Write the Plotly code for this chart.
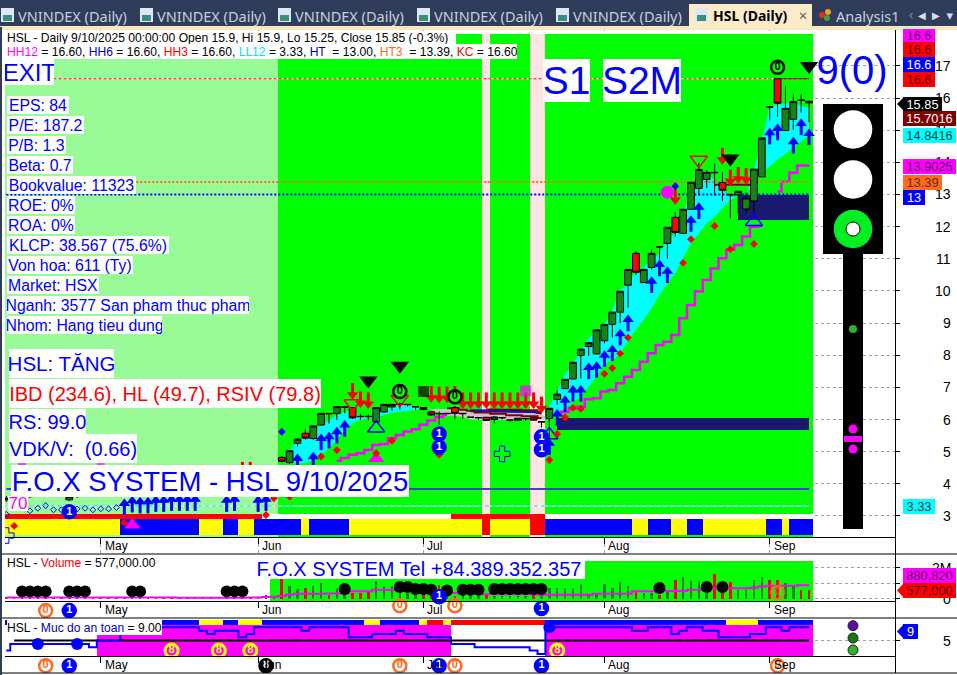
"""HSL daily chart with signal panels, volume and safety level."""

import plotly.graph_objects as go

W, H = 957, 675
FONT = "Liberation Sans"

GREEN = "#00ff00"
LIGHT = "#98fb98"
PALE = "#ffe4e1"
RED = "#ff0000"
BLUE = "#0000ff"
YELLOW = "#ffff00"
WHITE = "#ffffff"
PINK = "#ff00ff"
NAVY = "#191970"
CYAN = "#00ffff"
ORANGE = "#ff6a20"
DARKRED = "#800000"
CANDLE_GREEN = "#148414"

# bar index 0 is the oldest bar, 102 is 9/10/2025
bars = list(range(103))
month_ticks = [12, 32, 53, 76, 97]
month_labels = ["May", "Jun", "Jul", "Aug", "Sep"]

open_ = [3.5, 3.55, 3.58, 3.6, 3.64, 3.7, 3.66, 3.7, 3.5, 3.62, 3.68, 3.75, 3.72, 3.78, 3.84, 3.9, 3.98, 4.05, 4.1, 4.02,
         4.08, 4.12, 4.08, 4.15, 4.12, 4.18, 4.05, 4.1, 4.12, 4.18, 4.22, 4.2, 4.25, 4.3, 4.38, 4.82, 4.66, 5.26, 5.57, 5.41,
         5.83, 6.19, 6.19, 6.38, 6.37, 6.1, 6.1, 5.93, 6.24, 6.39, 6.47, 6.46, 6.39, 6.37, 6.24, 6.19, 6.18, 6.37, 6.18, 6.07,
         6.05, 6.07, 6.0, 6.05, 5.98, 5.98, 6.02, 6.06, 5.92, 6.03, 6.62, 6.96, 7.26, 7.99, 8.27, 8.04, 8.45, 8.96, 9.34, 10.18,
         11.17, 10.26, 10.73, 11.38, 11.48, 12.29, 11.79, 12.54, 13.19, 13.47, 13.69, 13.37, 13.0, 12.99, 12.55, 12.8, 13.55, 15.73, 16.6, 14.99,
         15.34, 15.94, 15.9]
high = [3.62, 3.66, 3.68, 3.72, 3.76, 3.74, 3.78, 3.74, 3.66, 3.76, 3.8, 3.78, 3.84, 3.9, 3.95, 4.04, 4.1, 4.15, 4.14, 4.12,
        4.16, 4.14, 4.2, 4.18, 4.22, 4.2, 4.14, 4.16, 4.22, 4.26, 4.26, 4.3, 4.34, 4.42, 4.54, 4.86, 5.03, 5.42, 5.72, 5.8,
        6.19, 6.19, 6.42, 6.39, 6.37, 6.16, 6.16, 6.37, 6.47, 6.47, 6.48, 6.47, 6.4, 6.38, 6.25, 6.25, 6.19, 6.42, 6.19, 6.07,
        6.06, 6.08, 6.1, 6.08, 5.99, 6.05, 6.03, 6.07, 5.93, 6.35, 6.92, 7.25, 7.78, 8.19, 8.42, 8.79, 8.96, 9.34, 9.99, 10.67,
        11.25, 10.7, 11.3, 11.38, 11.98, 12.45, 12.54, 13.38, 13.98, 13.76, 13.97, 13.69, 13.0, 13.1, 13.06, 13.79, 14.76, 15.73, 16.6, 16.38,
        16.13, 16.12, 15.9]
low = [3.44, 3.5, 3.52, 3.56, 3.6, 3.62, 3.62, 3.6, 3.46, 3.56, 3.64, 3.68, 3.68, 3.72, 3.8, 3.85, 3.92, 4.0, 3.98, 3.98,
       4.04, 4.04, 4.04, 4.08, 4.08, 4.02, 4.0, 4.06, 4.08, 4.14, 4.16, 4.16, 4.2, 4.26, 4.34, 4.66, 4.62, 5.15, 5.38, 5.36,
       5.8, 5.88, 5.98, 6.19, 6.02, 5.98, 5.98, 5.9, 6.2, 6.27, 6.3, 6.4, 6.3, 6.29, 6.12, 5.83, 6.17, 6.0, 6.03, 6.05,
       6.0, 5.96, 5.88, 6.0, 5.94, 5.97, 5.96, 5.97, 5.75, 5.26, 6.46, 6.96, 7.26, 7.28, 7.98, 8.04, 8.37, 8.55, 9.0, 9.48,
       10.5, 10.26, 10.65, 10.86, 11.0, 11.69, 11.79, 12.54, 12.97, 13.21, 12.97, 12.8, 12.26, 12.42, 12.42, 12.42, 13.55, 15.3, 15.42, 14.99,
       15.01, 15.55, 15.25]
close = [3.55, 3.6, 3.62, 3.66, 3.7, 3.68, 3.72, 3.66, 3.6, 3.7, 3.75, 3.72, 3.78, 3.85, 3.9, 3.98, 4.05, 4.1, 4.02, 4.08,
         4.12, 4.08, 4.15, 4.12, 4.18, 4.05, 4.1, 4.12, 4.18, 4.22, 4.2, 4.25, 4.3, 4.38, 4.5, 4.7, 5.03, 5.39, 5.42, 5.8,
         6.19, 6.18, 6.4, 6.39, 6.05, 6.09, 6.09, 6.37, 6.47, 6.47, 6.48, 6.47, 6.4, 6.31, 6.14, 6.18, 6.19, 6.19, 6.19, 6.07,
         6.06, 5.97, 6.08, 6.06, 5.98, 6.04, 6.03, 5.98, 5.93, 6.35, 6.79, 7.25, 7.78, 8.19, 8.39, 8.79, 8.96, 9.34, 9.99, 10.67,
         10.58, 10.67, 11.17, 11.37, 11.98, 11.82, 12.54, 13.38, 13.78, 13.69, 13.68, 13.13, 12.99, 13.1, 12.89, 13.79, 14.76, 15.72, 15.84, 15.68,
         15.89, 15.93, 15.85]

volume = [0.1, 0.05, 0.12, 0.08, 0.06, 0.1, 0.07, 0.12, 0.08, 0.1, 0.06, 0.09, 0.05, 0.08, 0.1, 0.12, 0.1, 0.06, 0.08, 0.1,
          0.07, 0.06, 0.09, 0.05, 0.08, 0.1, 0.07, 0.09, 0.06, 0.08, 0.1, 0.07, 0.12, 0.28, 0.17, 1.3, 0.86, 0.65, 0.71, 0.86,
          1.03, 0.28, 0.71, 0.56, 0.39, 0.39, 0.49, 1.14, 0.86, 0.82, 0.7, 0.65, 0.6, 0.6, 0.6, 0.92, 0.39, 0.17, 0.28, 0.25,
          0.17, 0.28, 0.2, 0.22, 0.18, 0.2, 0.2, 0.25, 0.3, 0.71, 0.71, 0.71, 0.71, 0.99, 0.34, 0.39, 0.99, 0.71, 1.12, 0.86,
          0.49, 0.39, 0.39, 0.28, 0.49, 1.2, 1.42, 1.14, 1.14, 0.39, 1.63, 0.39, 1.1, 0.56, 0.56, 1.25, 1.42, 1.25, 1.2, 1.03,
          0.82, 0.6, 0.577]
volume_ma = [0.1, 0.1, 0.1, 0.1, 0.1, 0.09, 0.09, 0.09, 0.09, 0.1, 0.1, 0.1, 0.1, 0.1, 0.1, 0.09, 0.09, 0.09, 0.09, 0.09,
             0.09, 0.09, 0.08, 0.08, 0.08, 0.08, 0.08, 0.08, 0.08, 0.08, 0.08, 0.09, 0.1, 0.12, 0.15, 0.2, 0.28, 0.33, 0.33, 0.33,
             0.33, 0.36, 0.36, 0.36, 0.5, 0.5, 0.5, 0.6, 0.6, 0.58, 0.55, 0.52, 0.5, 0.48, 0.45, 0.42, 0.4, 0.38, 0.36, 0.35,
             0.35, 0.3, 0.3, 0.3, 0.3, 0.3, 0.3, 0.3, 0.28, 0.28, 0.28, 0.28, 0.28, 0.28, 0.28, 0.34, 0.34, 0.34, 0.34, 0.34,
             0.5, 0.5, 0.5, 0.52, 0.52, 0.52, 0.52, 0.6, 0.6, 0.7, 0.7, 0.7, 0.7, 0.7, 0.7, 0.72, 0.8, 0.85, 0.85, 0.85,
             0.85, 0.88, 0.8808]
volume_dot_bars = [2, 3, 4, 5, 8, 9, 10, 16, 17, 28, 29, 30, 43, 50, 51, 52, 53, 54, 56, 58, 59, 60, 62, 63, 64, 65, 66, 67, 68, 83, 89, 91]
volume_dot_vals = [0.49, 0.49, 0.49, 0.49, 0.49, 0.49, 0.49, 0.49, 0.49, 0.49, 0.49, 0.49, 0.65, 0.77, 0.77, 0.65, 0.65, 0.6, 0.55, 0.6, 0.6, 0.6,
                   0.65, 0.65, 0.65, 0.65, 0.65, 0.65, 0.65, 0.71, 0.77, 0.77]

safety = [2, 4, 4, 4, 4, 4, 4, 4, 4, 4,
          4, 3, 5, 5, 5, 9, 9, 9, 9, 9,
          9, 9, 9, 9, 9, 8, 7, 8, 8, 8,
          6, 7, 9, 9, 9, 9, 9, 9, 8, 9,
          9, 9, 9, 9, 6, 6, 6, 7, 7, 7,
          8, 7, 7, 7, 6, 6, 6, 4, 4, 4,
          3, 3, 3, 3, 3, 3, 3, 2, 1, 9,
          9, 9, 9, 9, 9, 9, 9, 9, 9, 9,
          8, 8, 9, 9, 9, 7, 8, 9, 9, 8,
          8, 6, 6, 6, 6, 7, 7, 9, 9, 8,
          9, 9, 9]

# colour strips
main_bg = [LIGHT] * 35 + [GREEN] * 26 + [PALE] + [GREEN] * 5 + [PALE] * 2 + [GREEN] * 34
main_strip = [RED] * 33 + [WHITE] * 24 + [RED] * 12 + [WHITE] * 34
main_ribbon = ([YELLOW] * 15 + [BLUE] * 10 + [YELLOW] * 3 + [BLUE] * 2 + [YELLOW] * 2 + [BLUE] * 6 + [YELLOW] + [BLUE] * 5
               + [YELLOW] * 17 + [RED] + [YELLOW] * 5 + [RED] * 2 + [BLUE] * 11 + [YELLOW] * 2 + [BLUE] * 3 + [YELLOW] * 2
               + [BLUE] * 2 + [YELLOW] * 8 + [BLUE] * 2 + [YELLOW] + [BLUE] * 3)
volume_bg = [WHITE] * 34 + [GREEN] * 69
safety_bg = [WHITE] * 12 + [PINK] * 45 + [WHITE] * 12 + [PINK] * 34
safety_ribbon = ([BLUE] * 25 + [YELLOW] * 3 + [BLUE] * 2 + [YELLOW] * 3 + [BLUE] * 13 + [YELLOW] * 2 + [BLUE] * 5 + [YELLOW]
                 + [RED] * 2 + [YELLOW] + [RED] * 12 + [BLUE] * 23 + [YELLOW] * 4 + [BLUE] * 7)

# cyan channel and grey channel
hump_bars = list(range(36, 55))
hump_low = [4.64, 4.64, 4.64, 4.74, 4.9, 5.1, 5.36, 5.67, 5.88, 5.98, 6.04, 6.04, 6.14, 6.21, 6.24, 6.27, 6.32, 6.33, 6.33]
hump_up = [5.05, 5.36, 5.47, 5.62, 5.83, 5.98, 6.14, 6.24, 6.3, 6.09, 6.09, 6.14, 6.35, 6.43, 6.47, 6.45, 6.4, 6.35, 6.35]
rise_bars = list(range(69, 103))
rise_low = [6.04, 6.14, 6.35, 6.56, 6.71, 7.03, 7.33, 7.75, 7.83, 8.06, 8.43, 8.79, 9.1, 9.46, 9.87, 10.24, 10.55, 11.0, 11.48, 11.79,
            12.1, 12.31, 12.57, 12.83, 12.93, 13.0, 13.35, 13.66, 13.87, 14.08, 14.25, 14.45, 14.65, 14.84]
rise_up = [6.4, 6.92, 7.39, 7.75, 8.16, 8.53, 8.79, 8.94, 9.41, 10.03, 10.24, 10.6, 10.76, 10.96, 11.17, 11.59, 11.79, 12.42, 13.09, 13.56,
           13.66, 13.45, 13.14, 12.93, 12.93, 12.99, 13.76, 14.7, 15.73, 15.79, 15.82, 15.86, 15.75, 15.7]
grey_bars = list(range(54, 70))
grey_low = [6.28, 6.2, 6.12, 6.12, 6.08, 6.0, 5.98, 5.98, 5.98, 5.98, 5.98, 5.98, 5.98, 5.98, 6.0, 6.02]
grey_up = [6.33, 6.33, 6.33, 6.33, 6.3, 6.28, 6.27, 6.25, 6.25, 6.25, 6.25, 6.25, 6.25, 6.25, 6.15, 6.05]

trail_bars = list(range(42, 57)) + list(range(70, 103))
trail = [4.72, 4.8, 4.9, 4.95, 5.05, 5.21, 5.24, 5.42, 5.52, 5.63, 5.7, 5.84, 5.97, 6.08, 6.15,
         6.14, 6.24, 6.35, 6.4, 6.63, 6.66, 6.87, 6.92, 7.13, 7.33, 7.54, 7.8, 8.06, 8.32, 8.42, 8.63, 9.15, 9.56, 9.98, 10.34,
         10.7, 11.02, 11.28, 11.43, 11.69, 12.0, 12.02, None, 13.09, 13.4, 13.68, 13.9025, 13.9025]
redline_bars = [56, 57, 58, 59, 60, 61, 62, 63, 64, 65, 66, 67, 68]
redline_low = [6.35, 6.35, 6.3, 6.27, 6.22, 6.22, 6.18, 6.18, 6.13, 6.13, 6.1, 6.1, 6.05]
redline_high = [None, None, None, None, None, 6.31, 6.31, 6.3, 6.3, 6.3, 6.29, 6.29, 6.2]
blueline_bars = [59, 60, 61, 62, 63, 64, 65, 66, 67, 68]
blueline = [6.27, 6.27, 6.27, 6.27, 6.26, 6.26, 6.26, 6.25, 6.25, 6.2]

# support blocks, half bars at the ends
block_high_bars = [93.5] + list(range(94, 102)) + [101.5]
block_low_bars = [70.5] + list(range(71, 102)) + [101.5]

# levels
hh_level = 16.6
ht3_level = 13.39
ht_level = 13.0
blue_level = 3.84
ll_level = 3.31

# signals on the price panel
buy_bars = [102, 101, 100, 98, 97, 88, 87, 84, 83, 82, 79, 78, 77, 76, 75, 74, 73, 72, 71, 70, 69,
            15, 16, 17, 18, 19, 20, 21, 22, 23, 24, 28, 29, 32, 33, 37, 39, 40, 41, 42, 43]
buy_vals = [14.8, 15.11, 14.54, 14.95, 14.82, 12.5, 12.1, 10.51, 10.72, 10.2, 9.01, 8.57, 8.08, 7.9, 7.56, 7.52, 6.82, 6.82, 6.5, 6.07, 5.16,
            3.29, 3.37, 3.34, 3.34, 3.39, 3.39, 3.42, 3.42, 3.42, 3.42, 3.39, 3.42, 3.39, 3.42, 4.69, 4.74, 5.31, 5.36, 5.52, 5.73]
sell_bars = [44, 45, 46, 54, 55, 56, 57, 58, 59, 60, 61, 62, 63, 64, 65, 66, 67, 68, 85, 91, 92, 93, 94, 30, 31]
sell_vals = [6.87, 6.61, 6.58, 6.78, 6.76, 6.76, 6.78, 6.58, 6.58, 6.58, 6.58, 6.58, 6.58, 6.58, 6.58, 6.58, 6.58, 6.45, 12.94, 14.18, 13.51, 13.59, 13.56, 4.42, 4.42]
black_tri_bars = [102, 92, 46, 50]
black_tri_vals = [17.0, 14.12, 7.21, 7.67]
red_open_bars = [88, 44, 50]
red_open_vals = [14.07, 6.5, 6.63]
blue_open_bars = [95, 47, 69]
blue_open_vals = [12.15, 5.73, 5.52]
magenta_tri_bars = [47, 16]
magenta_tri_vals = [4.79, 2.72]
zero_bars = [98, 50, 57]
zero_vals = [16.96, 6.87, 6.71]
one_bars = [55, 55, 68, 68, 8]
one_vals = [5.55, 5.14, 5.46, 5.06, 3.13]
dot_bars = [90, 87, 92, 95, 86, 79, 78, 77, 76, 73, 72, 71, 70, 69, 49, 47, 42, 40, 36, 34, 33, 15, 1, 55]
dot_vals = [12.02, 11.61, 11.3, 11.46, 10.87, 8.55, 8.05, 7.6, 7.42, 6.33, 6.36, 6.07, 5.55, 4.74, 5.34, 4.95, 5.05, 4.85, 3.6, 3.55, 3.03, 2.79, 2.69, 4.9]
blue_dia_bars = [85, 35, 26]
blue_dia_vals = [13.26, 5.62, 4.3]
ring_bars = [0, 3, 4, 5, 6, 7, 8, 9, 10, 11, 12, 13, 14]
ring_vals = [3.05, 3.16, 3.24, 3.32, 3.19, 3.19, 3.16, 3.22, 3.24, 3.19, 3.22, 3.22, 3.26]
flower_bars = [63, 0]
flower_vals = [4.93, 2.39]
square_bars = [53, 66, 2, 12]
square_vals = [6.87, 6.89, 4.52, 4.52]
square_colors = ["black", PINK, PINK, PINK]
square_sizes = [11, 11, 8, 8]

# axis geometry, from the picture
x_lo, x_hi = (5 - 6.3) / 7.87, (895 - 6.3) / 7.87
price_range = [1.816, 18.18]
volume_range = [-1.226, 2.9]
safety_range = [-4.72, 11.79]
price_ticks = list(range(3, 18))


def xp(x):
    return x / W


def yp(y):
    return 1 - y / H


shapes = []
annotations = []


def rect(x0, y0, x1, y1, fill, kind="rect", layer="above", line=None):
    shapes.append(dict(type=kind, xref="paper", yref="paper", x0=xp(x0), x1=xp(x1), y0=yp(y0), y1=yp(y1),
                       fillcolor=fill, layer=layer, line=dict(width=0) if line is None else line))


def disc(cx, cy, r, fill, line=None):
    rect(cx - r, cy - r, cx + r, cy + r, fill, kind="circle", line=line)


def box(x0, y0, x1, y1, text, color=BLUE, size=16, bg=WHITE, align="center", family=FONT):
    annotations.append(dict(xref="paper", yref="paper", x=xp(x0), y=yp(y0), xanchor="left", yanchor="top",
                            width=x1 - x0, height=y1 - y0, text=text, showarrow=False, align=align, valign="middle",
                            bgcolor=bg, borderpad=0, borderwidth=0, font=dict(family=family, size=size, color=color)))


def pointer(x0, x1, y0, y1, fill):
    path = f"M {xp(x0)} {yp((y0 + y1) / 2)} L {xp(x1)} {yp(y0)} L {xp(x1)} {yp(y1)} Z"
    shapes.append(dict(type="path", xref="paper", yref="paper", path=path, fillcolor=fill, line=dict(width=0)))


def strip(xs, bottom, top, colors, yaxis):
    return go.Bar(x=xs, y=[top - bottom] * len(xs), base=bottom, width=1, yaxis=yaxis, xaxis=XMAP[yaxis],
                  marker=dict(color=colors, line=dict(width=0)), hoverinfo="skip")


def band(xs, lower, upper, fill):
    return [
        go.Scatter(x=xs, y=lower, mode="lines", line=dict(width=0), yaxis="y", hoverinfo="skip"),
        go.Scatter(x=xs, y=upper, mode="lines", line=dict(width=0), fill="tonexty", fillcolor=fill, yaxis="y", hoverinfo="skip"),
    ]


def level(x0, value, color, dash, width=2):
    return go.Scatter(x=[x0, 102], y=[value, value], mode="lines", yaxis="y", hoverinfo="skip",
                      line=dict(color=color, dash=dash, width=width))


def markers(xs, ys, symbol, size, color, yaxis="y4", line=None):
    xaxis = "x" if yaxis == "y4" else XMAP[yaxis]
    return go.Scatter(x=xs, y=ys, mode="markers", xaxis=xaxis, yaxis=yaxis, hoverinfo="skip",
                      marker=dict(symbol=symbol, size=size, color=color,
                                  line=line if line else dict(width=0)))


def arrows(xs, ys, color, up=True):
    # head and stem of one arrow, three pixels either side of its centre
    sign = 1 if up else -1
    heads = [v + sign * 0.1 for v in ys]
    stems = [v - sign * 0.11 for v in ys]
    return [
        markers(xs, stems, "line-ns", 7, color, line=dict(color=color, width=3)),
        markers(xs, heads, "triangle-up" if up else "triangle-down", 10, color),
    ]


def digits(xs, ys, digit, ring, fill, ink, yaxis="y4", size=13, ring_width=2.5):
    xaxis = "x" if yaxis == "y4" else XMAP[yaxis]
    return go.Scatter(x=xs, y=ys, mode="markers+text", xaxis=xaxis, yaxis=yaxis, hoverinfo="skip",
                      text=[digit] * len(xs), textposition="middle center",
                      textfont=dict(family=FONT, size=11, color=ink, weight="bold"),
                      marker=dict(size=size, color=fill, line=dict(color=ring, width=ring_width)))


XMAP = {"y": "x", "y2": "x2", "y3": "x3"}
fig = go.Figure()

# price panel, layers under the candles
fig.add_trace(strip(bars, 2.345, 17.995, main_bg, "y"))
fig.add_trace(strip(bars, 2.905, 3.06, main_strip, "y"))
fig.add_trace(strip(bars, 2.41, 2.905, main_ribbon, "y"))
fig.add_trace(strip(block_high_bars, 12.22, 13.0, [NAVY] * len(block_high_bars), "y"))
fig.add_trace(strip(block_low_bars, 5.67, 6.05, [NAVY] * len(block_low_bars), "y"))
fig.add_traces(band(hump_bars, hump_low, hump_up, CYAN))
fig.add_traces(band(grey_bars, grey_low, grey_up, "#c8c8c8"))
fig.add_traces(band(rise_bars, rise_low, rise_up, CYAN))
fig.add_trace(go.Scatter(x=blueline_bars, y=blueline, mode="lines", yaxis="y", hoverinfo="skip",
                         line=dict(color=BLUE, width=3)))
fig.add_trace(go.Scatter(x=redline_bars, y=redline_low, mode="lines", yaxis="y", hoverinfo="skip",
                         line=dict(color=DARKRED, width=2, shape="hvh")))
fig.add_trace(go.Scatter(x=redline_bars, y=redline_high, mode="lines", yaxis="y", hoverinfo="skip",
                         line=dict(color=DARKRED, width=2, shape="hvh")))
fig.add_trace(go.Scatter(x=trail_bars[:15], y=trail[:15], mode="lines", yaxis="y", hoverinfo="skip",
                         line=dict(color=PINK, width=2.5, shape="hvh")))
fig.add_trace(go.Scatter(x=trail_bars[15:], y=trail[15:], mode="lines", yaxis="y", hoverinfo="skip",
                         line=dict(color=PINK, width=2.5, shape="hvh")))
fig.add_trace(level(6, hh_level, WHITE, "solid", 1))
fig.add_trace(level(6, hh_level, RED, "3px,2px", 1))
fig.add_trace(level(98, hh_level, DARKRED, "solid", 1))
fig.add_trace(level(16, ht3_level, ORANGE, "2px,2px"))
fig.add_trace(go.Scatter(x=[90, 94.5], y=[13.3, 13.3], mode="lines", yaxis="y", hoverinfo="skip",
                         line=dict(color=DARKRED, width=2)))
fig.add_trace(level(0, ht_level, BLUE, "2px,2px"))
fig.add_trace(level(0, blue_level, "#4040d8", "solid"))
fig.add_trace(level(3, ll_level, WHITE, "solid", 1))
fig.add_trace(level(3, ll_level, "#00d8ff", "4px,3px", 1))

# price panel, candles and signals on an overlaid axis
fig.add_trace(go.Candlestick(x=bars, open=open_, high=high, low=low, close=close, xaxis="x", yaxis="y4", hoverinfo="skip",
                             whiskerwidth=0,
                             increasing=dict(fillcolor=CANDLE_GREEN, line=dict(color="black", width=1)),
                             decreasing=dict(fillcolor=RED, line=dict(color="black", width=1))))
fig.add_traces(arrows(buy_bars, buy_vals, BLUE, up=True))
fig.add_traces(arrows(sell_bars, sell_vals, RED, up=False))
fig.add_trace(markers(black_tri_bars, black_tri_vals, "triangle-down", 16, "black"))
fig.add_trace(markers(red_open_bars, red_open_vals, "triangle-down-open", 15, RED, line=dict(color=RED, width=1.5)))
fig.add_trace(markers(blue_open_bars, blue_open_vals, "triangle-up-open", 15, BLUE, line=dict(color=BLUE, width=1.5)))
fig.add_trace(markers(magenta_tri_bars, magenta_tri_vals, "triangle-up", 14, PINK))
fig.add_trace(markers(dot_bars, dot_vals, "diamond", 6, RED))
fig.add_trace(markers(blue_dia_bars, blue_dia_vals, "diamond", 6, BLUE))
fig.add_trace(markers(ring_bars, ring_vals, "diamond-open", 4.5, BLUE, line=dict(color=BLUE, width=1)))
fig.add_trace(markers(flower_bars, flower_vals, "cross-open", 13, BLUE, line=dict(color=BLUE, width=1)))
fig.add_trace(markers(square_bars, square_vals, "square", square_sizes, square_colors))
fig.add_trace(markers([84], [13.07], "circle", 13, PINK))
fig.add_trace(digits(zero_bars, zero_vals, "0", "black", GREEN, "black"))
fig.add_trace(digits(one_bars, one_vals, "1", BLUE, BLUE, WHITE))

# volume panel
fig.add_trace(strip(bars, -0.1, 2.45, volume_bg, "y2"))
volume_colors = [RED if c < o else CANDLE_GREEN for o, c in zip(open_, close)]
fig.add_trace(go.Bar(x=bars, y=volume, width=0.32, xaxis="x2", yaxis="y2", hoverinfo="skip",
                     marker=dict(color=volume_colors, line=dict(width=0))))
fig.add_trace(go.Scatter(x=bars, y=volume_ma, mode="lines", xaxis="x2", yaxis="y2", hoverinfo="skip",
                         line=dict(color=PINK, width=2, shape="hvh")))
fig.add_trace(markers(volume_dot_bars, volume_dot_vals, "circle", 12, "black", yaxis="y2"))
fig.add_trace(digits([5, 50, 57], [-0.75, -0.43, -0.43], "0", ORANGE, WHITE, ORANGE, yaxis="y2"))
fig.add_trace(digits([98], [0.41], "0", "rgba(255,106,32,0.75)", "rgba(0,0,0,0)", "rgba(255,106,32,0.75)", yaxis="y2"))
fig.add_trace(digits([8, 68, 55], [-0.75, -0.62, 0.15], "1", BLUE, BLUE, WHITE, yaxis="y2"))

# safety panel
fig.add_trace(strip(bars, 0.38, 9.69, safety_bg, "y3"))
fig.add_trace(strip(bars, 9.69, 11.19, safety_ribbon, "y3"))
fig.add_trace(go.Scatter(x=[1, 102], y=[5, 5], mode="lines", xaxis="x3", yaxis="y3", hoverinfo="skip",
                         line=dict(color="black", width=2)))
fig.add_trace(go.Scatter(x=bars, y=safety, mode="lines", xaxis="x3", yaxis="y3", hoverinfo="skip",
                         line=dict(color=BLUE, width=2, shape="hvh")))
fig.add_trace(markers([4, 9, 69], [4, 4, 9], "circle", 12, BLUE, yaxis="y3"))
fig.add_trace(digits([21, 27, 31, 70], [2, 2, 2, 2], "8", YELLOW, PINK, YELLOW, yaxis="y3", ring_width=3))
fig.add_trace(digits([33], [-2.53], "8", "black", "black", WHITE, yaxis="y3"))
fig.add_trace(digits([5, 50, 57, 98], [-2.53] * 4, "0", ORANGE, WHITE, ORANGE, yaxis="y3"))
fig.add_trace(digits([8, 55, 68], [-2.53] * 3, "1", BLUE, BLUE, WHITE, yaxis="y3"))

# tab strip
rect(0, 0, W, 27, "#2f3d5a")
rect(0, 26, W, 30, "#f8e6c0")
rect(0, 27, 2, H, "#2f3d5a")
for tab_x in [1, 140, 278, 417, 556]:
    rect(tab_x, 8, tab_x + 13, 22, "#dce8f4")
    rect(tab_x + 2, 15, tab_x + 11, 21, "#3c8f78")
    box(tab_x + 17, 5, tab_x + 132, 26, "VNINDEX (Daily)", color="#c8d0dc", size=14.5, bg="rgba(0,0,0,0)", align="left", family="Noto Sans")
rect(689, 4, 812, 28, "#fcebc8")
rect(695, 8, 708, 22, "#dce8f4")
rect(697, 15, 706, 21, "#3c8f78")
box(713, 5, 795, 26, "<b>HSL (Daily)</b>", color="black", size=14, bg="rgba(0,0,0,0)", align="left", family="Noto Sans")
box(796, 6, 810, 24, "×", color="#606060", size=15, bg="rgba(0,0,0,0)", family="Noto Sans")
disc(822, 15, 3, "#e03020")
disc(828, 12, 3, "#f0a020")
disc(827, 18, 3, "#40a040")
box(836, 5, 900, 26, "Analysis1", color="#c8d0dc", size=14.5, bg="rgba(0,0,0,0)", align="left", family="Noto Sans")
box(905, 6, 917, 24, "‹", color="#8090a8", size=14, bg="rgba(0,0,0,0)", family="DejaVu Sans")
box(916, 6, 928, 24, "◀", color="#d8dee8", size=10, bg="rgba(0,0,0,0)", family="DejaVu Sans")
box(930, 6, 942, 24, "▶", color="#d8dee8", size=10, bg="rgba(0,0,0,0)", family="DejaVu Sans")
box(944, 6, 956, 24, "▾", color="#d8dee8", size=13, bg="rgba(0,0,0,0)", family="DejaVu Sans")

# panel rules
for y in (554, 618, 673):
    rect(2, y - 0.5, W, y + 0.5, "black")

# date rows hide the vertical grid
for y0, y1 in ((537, 554), (601, 618), (656, 673)):
    rect(5, y0, 895, y1, WHITE, layer="between")

# traffic light
rect(823, 104, 883, 254, "black")
rect(843, 254, 863, 529, "black")
disc(853, 129.5, 19.3, WHITE)
disc(853, 179.5, 19.3, WHITE)
disc(853, 229, 19.3, "#00ee22")
disc(853, 229, 7, WHITE, line=dict(color="black", width=1))
disc(853, 329, 4, "#28b428")
disc(853, 429, 4.5, PINK)
disc(853, 449, 4.5, PINK)
rect(844, 436, 862, 442, PINK)
disc(853, 625.7, 5, "#5a0f9e", line=dict(color="#202020", width=1))
disc(853, 638, 5, "#157a15", line=dict(color="#202020", width=1))
disc(853, 650, 5, "#2fb02f", line=dict(color="#202020", width=1))

# month labels on each panel
for xaxis, y0 in (("x", 538), ("x2", 602), ("x3", 657)):
    for tick, name in zip(month_ticks, month_labels):
        annotations.append(dict(xref=xaxis, yref="paper", x=tick, y=yp(y0), xanchor="left", yanchor="top", xshift=3,
                                text=name, showarrow=False, borderpad=0, font=dict(family=FONT, size=12, color="black")))

# price axis numbers go under the value tags
for tick in price_ticks:
    annotations.append(dict(xref="paper", yref="y", x=xp(952), y=tick, xanchor="right", yanchor="middle", text=str(tick),
                            showarrow=False, borderpad=0, font=dict(family=FONT, size=14, color="black")))
for tick, name in zip([2, 0], ["2M", "0"]):
    annotations.append(dict(xref="paper", yref="y2", x=xp(952), y=tick, xanchor="right", yanchor="middle", text=name,
                            showarrow=False, borderpad=0, font=dict(family=FONT, size=14, color="black")))
annotations.append(dict(xref="paper", yref="y3", x=xp(952), y=5, xanchor="right", yanchor="middle", text="5",
                        showarrow=False, borderpad=0, font=dict(family=FONT, size=14, color="black")))

# value tags
tag_size = 12.8
box(903, 29, 935, 42, "16.6", color="#600060", size=tag_size, bg=PINK)
box(903, 42, 935, 57, "16.6", color="#600000", size=tag_size, bg=RED)
box(903, 57, 935, 72, "16.6", color=WHITE, size=tag_size, bg=BLUE)
box(903, 72, 935, 87, "16.6", color="#600000", size=tag_size, bg=RED)
pointer(897, 904, 97, 111, "black")
box(903, 97, 942, 111, "15.85", color=WHITE, size=tag_size, bg="black")
box(903, 111, 956, 126, "15.7016", color=WHITE, size=tag_size, bg=DARKRED)
box(903, 128, 956, 143, "14.8416", color="#004040", size=tag_size, bg=CYAN)
box(903, 159, 956, 174, "13.9025", color="#600060", size=tag_size, bg=PINK)
box(903, 175, 942, 190, "13.39", color="#603000", size=tag_size, bg=ORANGE)
box(903, 190, 925, 205, "13", color=WHITE, size=tag_size, bg=BLUE)
box(903, 499, 935, 514, "3.33", color="#004040", size=tag_size, bg=CYAN)
box(903, 568, 956, 583, "880,820", color="#600060", size=tag_size, bg=PINK)
pointer(897, 904, 583, 598, RED)
box(903, 583, 956, 598, "577,000", color="#600000", size=tag_size, bg=RED)
pointer(897, 904, 624, 639, BLUE)
box(903, 624, 918, 639, "9", color=WHITE, size=tag_size, bg=BLUE)

# header lines
rect(5, 31, 7, 59, WHITE)
box(7, 31, 456, 44, "HSL - Daily 9/10/2025 00:00:00 Open 15.9, Hi 15.9, Lo 15.25, Close 15.85 (-0.3%)", color="black", size=12.1, align="left")
header = ('<span style="color:#ff00ff">HH12</span> = 16.60, <span style="color:#0000c0">HH6</span> = 16.60, '
          '<span style="color:#ff0000">HH3</span> = 16.60, <span style="color:#00e0ff">LL12</span> = 3.33, '
          '<span style="color:#0000c0">HT</span>  = 13.00, <span style="color:#ff6a20">HT3</span>  = 13.39, '
          '<span style="color:#ff0000">KC</span> = 16.60')
box(7, 44, 517, 59, header, color="black", size=12.1, align="left")
box(5, 59, 54, 85, "EXIT", size=24)

# fundamentals
info_rows = [
    ("EPS: 84", 69), ("P/E: 187.2", 84), ("P/B: 1.3", 66), ("Beta: 0.7", 73), ("Bookvalue: 11323", 136), ("ROE: 0%", 75),
    ("ROA: 0%", 75), ("KLCP: 38.567 (75.6%)", 169), ("Von hoa: 611 (Ty)", 133), ("Market: HSX", 99),
    ("Nganh: 3577 San pham thuc pham", 249), ("Nhom: Hang tieu dung", 162),
]
for n, (row_text, row_end) in enumerate(info_rows):
    box(7, 96 + 20 * n, row_end, 114 + 20 * n, row_text, size=15.8)

box(9, 349, 114, 378, "HSL: TĂNG", size=20.5)
box(9, 379, 321, 408, "IBD (234.6), HL (49.7), RSIV (79.8)", color=RED, size=20)
box(9, 409, 86, 434, "RS: 99.0", size=20)
box(9, 434, 137, 463, "VDK/V:  (0.66)", size=20)
box(11, 465, 409, 497, "F.O.X SYSTEM - HSL 9/10/2025", size=27.5)
box(8, 496, 28, 511, "70", color=PINK, size=17)
box(543, 59, 590, 102, "S1", size=39)
box(603, 59, 681, 102, "S2M", size=39)
box(815, 48, 889, 92, "9(0)", size=40, bg="rgba(0,0,0,0)")

# sub panel titles
box(7, 556, 160, 570, 'HSL - <span style="color:#ff0000">Volume</span> = 577,000.00', color="black", size=12.1, align="left")
box(253, 558, 585, 579, "F.O.X SYSTEM Tel +84.389.352.357", size=20)
box(7, 620, 162, 635, 'HSL - <span style="color:#0000c0">Muc do an toan</span> = 9.00', color="black", size=12.1, align="left")

axis_x = dict(range=[x_lo, x_hi], domain=[xp(5), xp(895)], showticklabels=False, tickmode="array", tickvals=month_ticks,
              ticks="outside", ticklen=6, tickcolor="black", showline=True, linecolor="black", linewidth=1,
              showgrid=False, zeroline=False, anchor="free")
axis_y = dict(side="right", showline=True, linecolor="black", linewidth=1, ticks="outside", ticklen=4, tickcolor="black",
              showticklabels=False, tickmode="array", showgrid=True, gridcolor="#a0a0a0", griddash="dot", gridwidth=1,
              zeroline=False)

fig.update_layout(
    width=W,
    height=H,
    autosize=False,
    margin=dict(l=0, r=0, t=0, b=0),
    paper_bgcolor=WHITE,
    plot_bgcolor=WHITE,
    showlegend=False,
    barmode="overlay",
    bargap=0,
    boxgap=0.12,
    boxgroupgap=0.02,
    xaxis={**axis_x, "position": yp(537), "showgrid": True, "gridcolor": "#a0a0a0", "griddash": "dot", "rangeslider": dict(visible=False)},
    xaxis2={**axis_x, "position": yp(601)},
    xaxis3={**axis_x, "position": yp(656)},
    yaxis={**axis_y, "domain": [yp(554), yp(28)], "range": price_range, "tickvals": price_ticks, "anchor": "x"},
    yaxis2={**axis_y, "domain": [yp(618), yp(554)], "range": volume_range, "tickvals": [0, 1, 2], "anchor": "x2"},
    yaxis3={**axis_y, "domain": [yp(673), yp(618)], "range": safety_range, "tickvals": [5], "anchor": "x3"},
    yaxis4=dict(overlaying="y", side="right", range=price_range, visible=False, anchor="x"),
    shapes=shapes,
    annotations=annotations,
)

fig.write_html("out.html", post_script="document.body.style.margin='0';", config={"displayModeBar": False})
